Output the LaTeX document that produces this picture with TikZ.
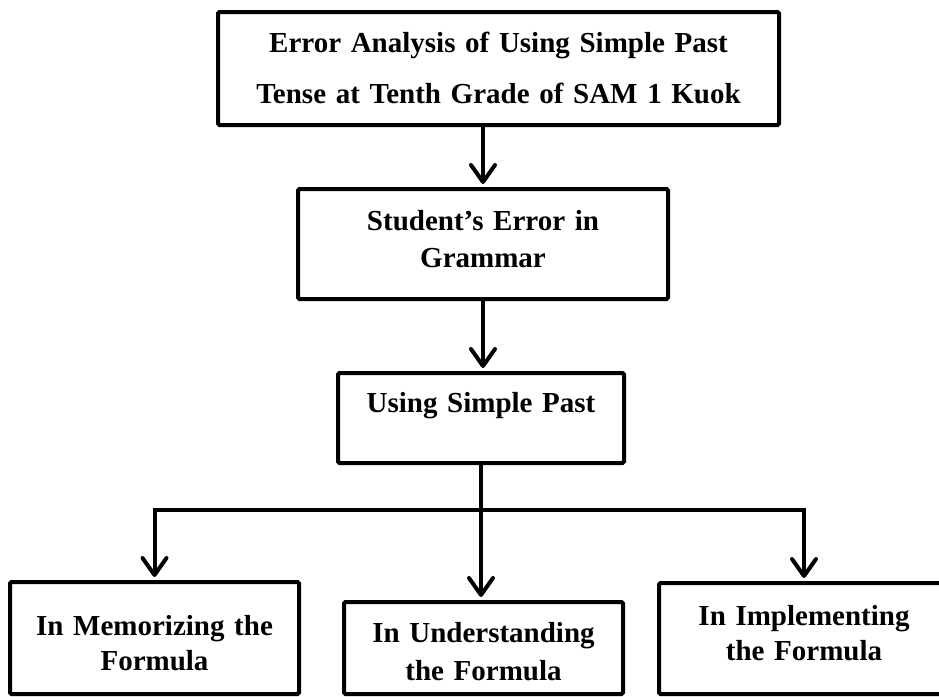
\documentclass[tikz,border=0pt]{standalone}
\usepackage{fontspec}
\setmainfont{Liberation Serif}
\usetikzlibrary{arrows.meta}

\begin{document}
\begin{tikzpicture}
  [x=1pt, y=-1pt,
    >={Straight Barb[length=17pt, width=24pt, round]},
    line width=4pt]

  \tikzset{
    base/.style={
      rectangle,
      draw=black, rounded corners=1.5pt,
      inner sep=0pt, outer sep=0pt,
      align=center,
      text height=20pt,
    },
    stage/.style={base,
      font=\bfseries\fontsize{29}{37}\selectfont,
    },
    leads/.style={->, draw, shorten >=5pt},
    link/.style={draw},
  }

  \useasboundingbox (0,0) rectangle (939,696);

  \node[stage, minimum width=561pt, minimum height=113pt, text depth=53pt,
    font=\bfseries\fontsize{29}{51}\selectfont, text width=540pt]
    (title) at (498.5,68.5)
    {Error Analysis of Using Simple Past\\Tense at Tenth Grade of SAM 1 Kuok};

  \node[stage, minimum width=370pt, minimum height=110pt, text depth=48pt,
    text width=350pt] (grammar) at (483,244)
    {Student’s Error in\\Grammar};

  \node[stage, minimum width=286pt, minimum height=90pt, text depth=32pt,
    text width=270pt] (simple) at (481,418)
    {Using Simple Past};

  % the three kinds of error
  \node[stage, minimum width=289pt, minimum height=112pt, text depth=26pt,
    font=\bfseries\fontsize{29}{35}\selectfont, text width=270pt]
    (memor) at (154.5,638)
    {In Memorizing the\\Formula};

  \node[stage, minimum width=279pt, minimum height=92pt, text depth=32pt,
    font=\bfseries\fontsize{29}{38}\selectfont, text width=260pt]
    (under) at (483.5,648)
    {In Understanding\\the Formula};

  \node[stage, minimum width=290pt, minimum height=111pt, text depth=47pt,
    font=\bfseries\fontsize{29}{35}\selectfont, text width=270pt]
    (implem) at (804,638.5)
    {In Implementing\\the Formula};

  \coordinate (fork) at (481,510);

  \draw[leads] (title.south -| grammar.north) -- (grammar.north);
  \draw[leads] (grammar.south) -- (grammar.south |- simple.north);
  \draw[leads] (simple.south) -- (fork) -- (fork |- under.north);
  \draw[leads] (fork) -| (memor.north);
  \draw[leads] (fork) -| (implem.north);
\end{tikzpicture}
\end{document}
